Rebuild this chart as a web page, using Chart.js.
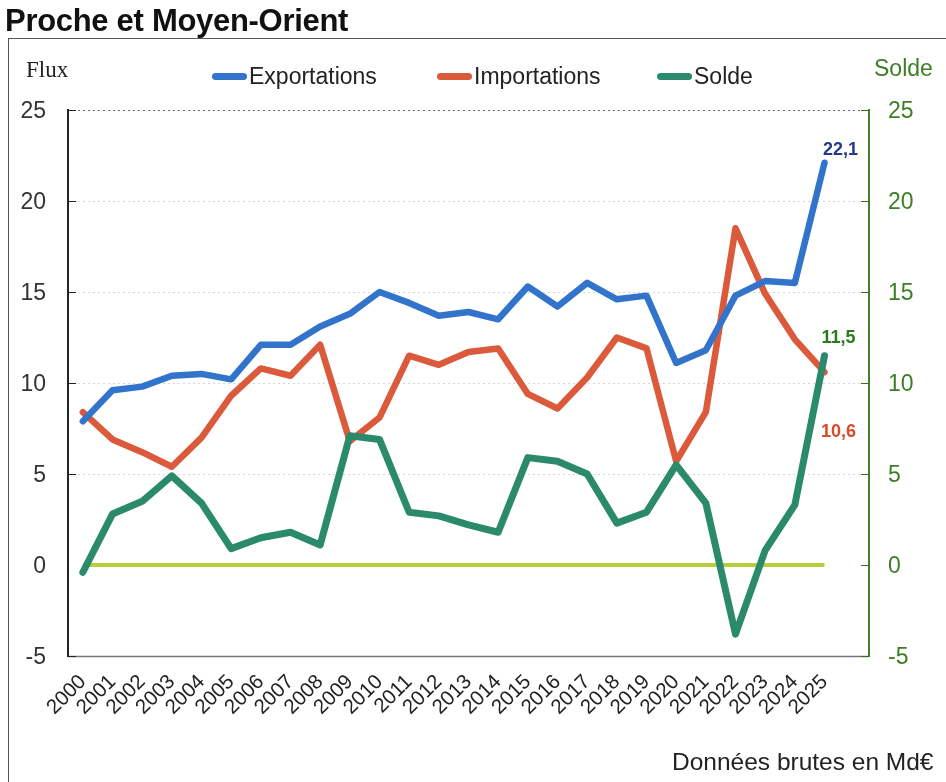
<!DOCTYPE html>
<html lang="fr">
<head>
<meta charset="utf-8">
<title>Proche et Moyen-Orient</title>
<script src="https://cdn.jsdelivr.net/npm/chart.js@4.4.1/dist/chart.umd.min.js"></script>
<style>
  html, body { margin: 0; padding: 0; background: #fff; }
  #wrap { position: relative; width: 946px; height: 782px; overflow: hidden; font-family: "Liberation Sans", Arial, sans-serif; }
  #frame { position: absolute; left: 8px; top: 38px; width: 960px; height: 800px; border-left: 1.5px solid #555; border-top: 1.5px solid #555; }
  #chart { position: absolute; left: 0; top: 0; }
  .txt { position: absolute; white-space: nowrap; line-height: 1; }
  #title { left: 5px; top: 5px; font-weight: bold; font-size: 31px; letter-spacing: -0.3px; color: #111; }
  #flux { left: 26px; top: 58px; font-family: "Liberation Serif", "Times New Roman", serif; font-size: 23px; color: #222; }
  #solde { left: 874px; top: 57px; font-size: 23px; color: #3c7d25; }
  #note { left: 672px; top: 750px; font-size: 24.5px; color: #222; }
  .leg { position: absolute; top: 63px; display: flex; align-items: center; font-size: 23px; color: #222; }
  .sw { display: inline-block; width: 35px; height: 7px; border-radius: 4px; margin-right: 2px; }
</style>
</head>
<body>
<div id="wrap">
  <div id="frame"></div>
  <canvas id="chart" width="946" height="782"></canvas>
  <div id="title" class="txt">Proche et Moyen-Orient</div>
  <div id="flux" class="txt">Flux</div>
  <div id="solde" class="txt">Solde</div>
  <div id="note" class="txt">Données brutes en Md€</div>
  <div class="leg" style="left:212px"><span class="sw" style="background:#3274cc"></span>Exportations</div>
  <div class="leg" style="left:437px"><span class="sw" style="background:#dc5a3c"></span>Importations</div>
  <div class="leg" style="left:657px"><span class="sw" style="background:#2b8a6b"></span>Solde</div>
</div>
<script>
// ---- Data ----
const years = ['2000','2001','2002','2003','2004','2005','2006','2007','2008','2009','2010','2011','2012',
               '2013','2014','2015','2016','2017','2018','2019','2020','2021','2022','2023','2024','2025'];
const exportations = [7.9, 9.6, 9.8, 10.4, 10.5, 10.2, 12.1, 12.1, 13.1, 13.8, 15.0, 14.4, 13.7,
                      13.9, 13.5, 15.3, 14.2, 15.5, 14.6, 14.8, 11.1, 11.8, 14.8, 15.6, 15.5, 22.1];
const importations = [8.4, 6.9, 6.2, 5.4, 7.0, 9.3, 10.8, 10.4, 12.1, 6.8, 8.1, 11.5, 11.0,
                      11.7, 11.9, 9.4, 8.6, 10.3, 12.5, 11.9, 5.7, 8.4, 18.5, 14.9, 12.4, 10.6];
const solde = [-0.4, 2.8, 3.5, 4.9, 3.4, 0.9, 1.5, 1.8, 1.1, 7.1, 6.9, 2.9, 2.7,
               2.2, 1.8, 5.9, 5.7, 5.0, 2.3, 2.9, 5.5, 3.4, -3.8, 0.8, 3.3, 11.5];
const zero = years.map(() => 0);
const yTicks = [-5, 0, 5, 10, 15, 20, 25];
const lastLabels = ['22,1', '10,6', '11,5'];

// x categories: an extra empty slot on the right, as in the original layout
const xLabels = years.concat(['']);

const FONT = '"Liberation Sans", Arial, sans-serif';

const gridPlugin = {
  id: 'gridPlugin',
  beforeDatasetsDraw(chart) {
    const { ctx, chartArea: a, scales } = chart;
    const y = scales.y, y2 = scales.y2;
    ctx.save();
    y.ticks.forEach(t => {
      const py = Math.round(y.getPixelForValue(t.value)) + 0.5;
      if (t.value === 0) return;
      ctx.beginPath();
      ctx.setLineDash(t.value === -5 ? [] : [2, 3]);
      ctx.lineWidth = t.value === -5 ? 1.5 : 1;
      ctx.strokeStyle = t.value === 25 ? '#666' : (t.value === -5 ? '#777' : '#d4d4d4');
      ctx.moveTo(a.left, py); ctx.lineTo(a.right, py); ctx.stroke();
      // inward ticks
      ctx.setLineDash([]);
      ctx.lineWidth = 1;
      ctx.strokeStyle = '#222';
      ctx.beginPath(); ctx.moveTo(a.left, py); ctx.lineTo(a.left + 8, py); ctx.stroke();
    });
    y2.ticks.forEach(t => {
      const py = Math.round(y2.getPixelForValue(t.value)) + 0.5;
      ctx.setLineDash([]);
      ctx.strokeStyle = '#3c6e22';
      ctx.lineWidth = 1;
      ctx.beginPath(); ctx.moveTo(a.right, py); ctx.lineTo(a.right - 8, py); ctx.stroke();
    });
    ctx.restore();
  }
};

const labelPlugin = {
  id: 'labelPlugin',
  afterDatasetsDraw(chart) {
    const { ctx } = chart;
    ctx.save();
    ctx.font = 'bold 18px ' + FONT;
    ctx.textAlign = 'center';
    ctx.textBaseline = 'middle';
    chart.data.datasets.forEach((ds, i) => {
      if (!ds.lastLabel) return;
      const meta = chart.getDatasetMeta(i);
      const pt = meta.data[ds.data.length - 1];
      ctx.fillStyle = ds.lastLabel.color;
      ctx.fillText(ds.lastLabel.text, pt.x + ds.lastLabel.dx, pt.y + ds.lastLabel.dy);
    });
    ctx.restore();
  }
};

new Chart(document.getElementById('chart'), {
  type: 'line',
  data: {
    labels: xLabels,
    datasets: [
      { label: 'Exportations', data: exportations, yAxisID: 'y', borderColor: '#3274cc', borderWidth: 6.5,
        pointRadius: 0, tension: 0, order: 2, borderJoinStyle: 'round', borderCapStyle: 'round',
        lastLabel: { text: lastLabels[0], color: '#23398a', dx: 16, dy: -13 } },
      { label: 'Importations', data: importations, yAxisID: 'y', borderColor: '#dc5a3c', borderWidth: 6.5,
        pointRadius: 0, tension: 0, order: 3, borderJoinStyle: 'round', borderCapStyle: 'round',
        lastLabel: { text: lastLabels[1], color: '#d84a2a', dx: 14, dy: 60 } },
      { label: 'Solde', data: solde, yAxisID: 'y2', borderColor: '#2b8a6b', borderWidth: 7,
        pointRadius: 0, tension: 0, order: 1, borderJoinStyle: 'round', borderCapStyle: 'round',
        lastLabel: { text: lastLabels[2], color: '#2a7a1f', dx: 14, dy: -18 } },
      { label: 'Zéro', data: zero, yAxisID: 'y2', borderColor: '#b8cf3c', borderWidth: 4,
        pointRadius: 0, tension: 0, order: 10 }
    ]
  },
  options: {
    responsive: false,
    animation: false,
    devicePixelRatio: 1,
    layout: { padding: { top: 110, left: 0, right: 0, bottom: 0 } },
    plugins: { legend: { display: false }, tooltip: { enabled: false } },
    scales: {
      x: {
        type: 'category',
        offset: true,
        grid: { display: false, drawTicks: false },
        border: { display: false },
        ticks: { autoSkip: false, minRotation: 45, maxRotation: 45, padding: 14,
                 color: '#222', font: { family: FONT, size: 20.5 } },
        afterFit(s) { s.height = 126; }
      },
      y: {
        position: 'left',
        min: -5, max: 25,
        afterBuildTicks(s) { s.ticks = yTicks.map(v => ({ value: v })); },
        grid: { display: false, drawTicks: false },
        border: { display: true, color: '#222', width: 2 },
        ticks: { padding: 22, labelOffset: 2, color: '#333', font: { family: FONT, size: 23 } },
        afterFit(s) { s.width = 68; }
      },
      y2: {
        position: 'right',
        min: -5, max: 25,
        afterBuildTicks(s) { s.ticks = yTicks.map(v => ({ value: v })); },
        grid: { display: false, drawTicks: false },
        border: { display: true, color: '#4a7a2c', width: 2 },
        ticks: { padding: 19, labelOffset: 2, color: '#3c7d25', font: { family: FONT, size: 23 } },
        afterFit(s) { s.width = 77; }
      }
    }
  },
  plugins: [gridPlugin, labelPlugin]
});
</script>
</body>
</html>
